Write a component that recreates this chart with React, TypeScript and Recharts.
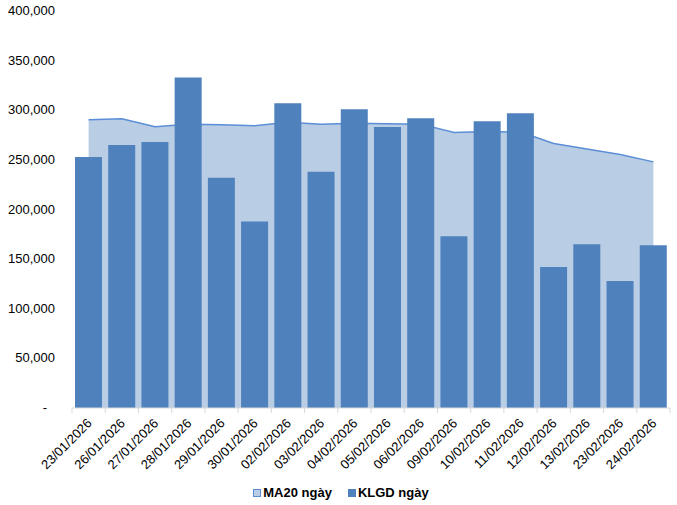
import { Area, Bar, ComposedChart, Legend, XAxis, YAxis } from "recharts";

const dates = [
  "23/01/2026", "26/01/2026", "27/01/2026", "28/01/2026", "29/01/2026", "30/01/2026",
  "02/02/2026", "03/02/2026", "04/02/2026", "05/02/2026", "06/02/2026", "09/02/2026",
  "10/02/2026", "11/02/2026", "12/02/2026", "13/02/2026", "23/02/2026", "24/02/2026",
];

// KLGD ngày (khối lượng giao dịch)
const klgd = [
  253000, 265000, 268000, 333000, 232000, 188000, 307000, 238000, 301000,
  283000, 292000, 173000, 289000, 297000, 142000, 165000, 128000, 164000,
];

// MA20 ngày
const ma20 = [
  290500, 291500, 283500, 286000, 285500, 284500, 288000, 286000, 287000,
  286500, 286000, 277500, 278500, 278000, 266500, 261000, 255500, 248000,
];

const yTicks = [0, 50000, 100000, 150000, 200000, 250000, 300000, 350000, 400000];

const W = 677;
const H = 505;
const LEFT = 72;
const RIGHT = 7;
const BAND = (W - LEFT - RIGHT) / dates.length;

const BAR_COLOR = "#4f81bd";
const AREA_FILL = "#b9cde5";
const AREA_LINE = "#5b8ed6";
const AXIS_GRAY = "#d9d9d9";
const FONT = "'Liberation Sans', Arial, sans-serif";

const data = dates.map((d, i) => ({ date: d, klgd: klgd[i], ma20: ma20[i] }));

function DateTick(props: any) {
  const { x, y, payload, index } = props;
  const left = x - BAND / 2;
  const tx = x + 4;
  const ty = y + 11;
  return (
    <g>
      <line x1={left} y1={y - 5} x2={left} y2={y} stroke={AXIS_GRAY} />
      {index === dates.length - 1 && (
        <line x1={x + BAND / 2} y1={y - 5} x2={x + BAND / 2} y2={y} stroke={AXIS_GRAY} />
      )}
      <text
        x={tx}
        y={ty}
        transform={`rotate(-45, ${tx}, ${ty})`}
        textAnchor="end"
        fontSize={13}
        fontFamily={FONT}
        fill="#000"
      >
        {payload.value}
      </text>
    </g>
  );
}

function ValueTick(props: any) {
  const { x, y, payload } = props;
  const v = payload.value as number;
  return (
    <text
      x={v === 0 ? x - 8 : x}
      y={y + 4}
      textAnchor="end"
      fontSize={13}
      fontFamily={FONT}
      fill="#000"
    >
      {v === 0 ? "-" : v.toLocaleString("en-US")}
    </text>
  );
}

function LegendBox() {
  const items = [
    { label: "MA20 ngày", fill: AREA_FILL, stroke: AREA_LINE },
    { label: "KLGD ngày", fill: BAR_COLOR, stroke: BAR_COLOR },
  ];
  return (
    <div style={{ display: "flex", justifyContent: "center", gap: 16, marginLeft: 12, paddingTop: 2 }}>
      {items.map((it) => (
        <div key={it.label} style={{ display: "flex", alignItems: "center" }}>
          <span
            style={{
              display: "inline-block",
              width: 6,
              height: 6,
              background: it.fill,
              border: `1px solid ${it.stroke}`,
              marginRight: 2,
            }}
          />
          <span style={{ fontFamily: FONT, fontSize: 13, fontWeight: "bold", color: "#000" }}>
            {it.label}
          </span>
        </div>
      ))}
    </div>
  );
}

export default function App() {
  return (
    <div style={{ position: "absolute", left: 0, top: 0, width: W, height: H, background: "#fff" }}>
      <ComposedChart
        width={W}
        height={H}
        data={data}
        margin={{ top: 11, right: RIGHT, left: 0, bottom: 0 }}
        barCategoryGap="9%"
      >
        <XAxis
          dataKey="date"
          interval={0}
          axisLine={{ stroke: AXIS_GRAY }}
          tickLine={false}
          tickSize={5}
          tickMargin={0}
          height={75}
          tick={<DateTick />}
        />
        <YAxis
          width={LEFT}
          domain={[0, 400000]}
          ticks={yTicks}
          axisLine={false}
          tickLine={false}
          tickSize={0}
          tickMargin={17}
          tick={<ValueTick />}
        />
        <Legend verticalAlign="bottom" height={22} content={<LegendBox />} />
        <Area
          type="linear"
          dataKey="ma20"
          name="MA20 ngày"
          fill={AREA_FILL}
          fillOpacity={1}
          stroke={AREA_LINE}
          strokeWidth={1.5}
          isAnimationActive={false}
        />
        <Bar dataKey="klgd" name="KLGD ngày" fill={BAR_COLOR} isAnimationActive={false} />
      </ComposedChart>
    </div>
  );
}
